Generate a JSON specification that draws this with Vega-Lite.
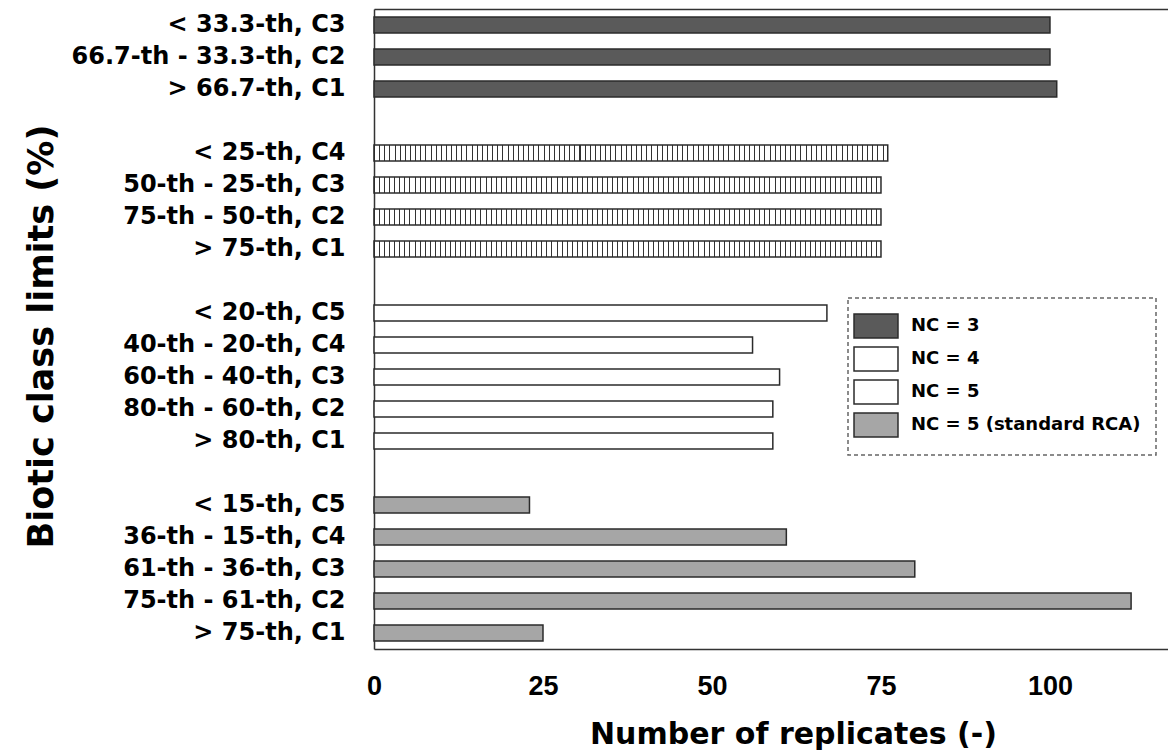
{
  "$schema": "https://vega.github.io/schema/vega-lite/v6.json",
  "width": 794,
  "height": 640,
  "autosize": {"type": "none"},
  "padding": {"left": 374, "top": 9, "right": 0, "bottom": 107},
  "background": "white",
  "config": {"view": {"stroke": null}, "legend": {"strokeDash": [4, 3], "strokeWidth": 1.5}},
  "resolve": {"axis": {"x": "independent", "y": "independent"}},
  "data": {"values": [
    {"cls": "< 33.3-th, C3", "n": 100, "NC": "NC = 3"},
    {"cls": "66.7-th - 33.3-th, C2", "n": 100, "NC": "NC = 3"},
    {"cls": "> 66.7-th, C1", "n": 101, "NC": "NC = 3"},
    {"cls": "< 25-th, C4", "n": 76, "NC": "NC = 4"},
    {"cls": "50-th - 25-th, C3", "n": 75, "NC": "NC = 4"},
    {"cls": "75-th - 50-th, C2", "n": 75, "NC": "NC = 4"},
    {"cls": "> 75-th, C1", "n": 75, "NC": "NC = 4"},
    {"cls": "< 20-th, C5", "n": 67, "NC": "NC = 5"},
    {"cls": "40-th - 20-th, C4", "n": 56, "NC": "NC = 5"},
    {"cls": "60-th - 40-th, C3", "n": 60, "NC": "NC = 5"},
    {"cls": "80-th - 60-th, C2", "n": 59, "NC": "NC = 5"},
    {"cls": "> 80-th, C1", "n": 59, "NC": "NC = 5"},
    {"cls": "< 15-th, C5", "n": 23, "NC": "NC = 5 (standard RCA)"},
    {"cls": "36-th - 15-th, C4", "n": 61, "NC": "NC = 5 (standard RCA)"},
    {"cls": "61-th - 36-th, C3", "n": 80, "NC": "NC = 5 (standard RCA)"},
    {"cls": "75-th - 61-th, C2", "n": 112, "NC": "NC = 5 (standard RCA)"},
    {"cls": "> 75-th, C1\u200b", "n": 25, "NC": "NC = 5 (standard RCA)"}
  ]},
  "layer": [
    {
      "mark": {"type": "bar", "stroke": "#2b2b2b", "strokeWidth": 1.5},
      "encoding": {
        "y": {
          "field": "cls", "type": "nominal", "sort": null,
          "scale": {
            "domain": ["< 33.3-th, C3", "66.7-th - 33.3-th, C2", "> 66.7-th, C1", "gap1", "< 25-th, C4", "50-th - 25-th, C3", "75-th - 50-th, C2", "> 75-th, C1", "gap2", "< 20-th, C5", "40-th - 20-th, C4", "60-th - 40-th, C3", "80-th - 60-th, C2", "> 80-th, C1", "gap3", "< 15-th, C5", "36-th - 15-th, C4", "61-th - 36-th, C3", "75-th - 61-th, C2", "> 75-th, C1\u200b"],
            "paddingInner": 0.5, "paddingOuter": 0.25
          },
          "axis": {
            "orient": "left",
            "title": "Biotic class limits (%)",
            "domain": true, "domainColor": "#333333", "domainWidth": 1.5,
            "ticks": false, "tickSize": 0,
            "labelPadding": 29, "labelLimit": 500, "labelOverlap": false,
            "labelFont": "DejaVu Sans", "labelFontSize": 24, "labelFontWeight": "bold", "labelColor": "#000000",
            "labelExpr": "indexof(datum.label, 'gap') === 0 ? '' : datum.label",
            "titleFont": "DejaVu Sans", "titleFontSize": 35, "titleFontWeight": "bold", "titleColor": "#000000",
            "titleX": -322, "titleY": 327, "titleAlign": "center", "titleBaseline": "alphabetic", "titleAngle": 270
          }
        },
        "x": {
          "field": "n", "type": "quantitative",
          "scale": {"domain": [0, 117.46], "nice": false},
          "axis": {
            "orient": "bottom",
            "title": "Number of replicates (-)",
            "values": [0, 25, 50, 75, 100],
            "domain": true, "domainColor": "#333333", "domainWidth": 1.5,
            "ticks": false, "tickSize": 0, "grid": false,
            "labelPadding": 45, "labelBaseline": "alphabetic", "labelFlush": false,
            "labelFont": "Liberation Sans", "labelFontSize": 27, "labelFontWeight": "bold", "labelColor": "#000000",
            "titleFont": "DejaVu Sans", "titleFontSize": 30, "titleFontWeight": "bold", "titleColor": "#000000",
            "titleX": 419, "titleY": 94, "titleAlign": "center", "titleBaseline": "alphabetic"
          }
        },
        "fill": {
          "field": "NC", "type": "nominal",
          "condition": {
            "test": "datum.NC === 'NC = 4'",
            "value": {"gradient": "linear", "x1": 0, "y1": 0, "x2": 1, "y2": 0, "stops": [
{"offset":0,"color":"#333"},{"offset":0.00197,"color":"#333"},{"offset":0.00197,"color":"#fff"},{"offset":0.01,"color":"#fff"},
{"offset":0.01,"color":"#333"},{"offset":0.01197,"color":"#333"},{"offset":0.01197,"color":"#fff"},{"offset":0.02,"color":"#fff"},
{"offset":0.02,"color":"#333"},{"offset":0.02197,"color":"#333"},{"offset":0.02197,"color":"#fff"},{"offset":0.03,"color":"#fff"},
{"offset":0.03,"color":"#333"},{"offset":0.03197,"color":"#333"},{"offset":0.03197,"color":"#fff"},{"offset":0.04,"color":"#fff"},
{"offset":0.04,"color":"#333"},{"offset":0.04197,"color":"#333"},{"offset":0.04197,"color":"#fff"},{"offset":0.05,"color":"#fff"},
{"offset":0.05,"color":"#333"},{"offset":0.05197,"color":"#333"},{"offset":0.05197,"color":"#fff"},{"offset":0.06,"color":"#fff"},
{"offset":0.06,"color":"#333"},{"offset":0.06197,"color":"#333"},{"offset":0.06197,"color":"#fff"},{"offset":0.07,"color":"#fff"},
{"offset":0.07,"color":"#333"},{"offset":0.07197,"color":"#333"},{"offset":0.07197,"color":"#fff"},{"offset":0.08,"color":"#fff"},
{"offset":0.08,"color":"#333"},{"offset":0.08197,"color":"#333"},{"offset":0.08197,"color":"#fff"},{"offset":0.09,"color":"#fff"},
{"offset":0.09,"color":"#333"},{"offset":0.09197,"color":"#333"},{"offset":0.09197,"color":"#fff"},{"offset":0.10,"color":"#fff"},
{"offset":0.10,"color":"#333"},{"offset":0.10197,"color":"#333"},{"offset":0.10197,"color":"#fff"},{"offset":0.11,"color":"#fff"},
{"offset":0.11,"color":"#333"},{"offset":0.11197,"color":"#333"},{"offset":0.11197,"color":"#fff"},{"offset":0.12,"color":"#fff"},
{"offset":0.12,"color":"#333"},{"offset":0.12197,"color":"#333"},{"offset":0.12197,"color":"#fff"},{"offset":0.13,"color":"#fff"},
{"offset":0.13,"color":"#333"},{"offset":0.13197,"color":"#333"},{"offset":0.13197,"color":"#fff"},{"offset":0.14,"color":"#fff"},
{"offset":0.14,"color":"#333"},{"offset":0.14197,"color":"#333"},{"offset":0.14197,"color":"#fff"},{"offset":0.15,"color":"#fff"},
{"offset":0.15,"color":"#333"},{"offset":0.15197,"color":"#333"},{"offset":0.15197,"color":"#fff"},{"offset":0.16,"color":"#fff"},
{"offset":0.16,"color":"#333"},{"offset":0.16197,"color":"#333"},{"offset":0.16197,"color":"#fff"},{"offset":0.17,"color":"#fff"},
{"offset":0.17,"color":"#333"},{"offset":0.17197,"color":"#333"},{"offset":0.17197,"color":"#fff"},{"offset":0.18,"color":"#fff"},
{"offset":0.18,"color":"#333"},{"offset":0.18197,"color":"#333"},{"offset":0.18197,"color":"#fff"},{"offset":0.19,"color":"#fff"},
{"offset":0.19,"color":"#333"},{"offset":0.19197,"color":"#333"},{"offset":0.19197,"color":"#fff"},{"offset":0.20,"color":"#fff"},
{"offset":0.20,"color":"#333"},{"offset":0.20197,"color":"#333"},{"offset":0.20197,"color":"#fff"},{"offset":0.21,"color":"#fff"},
{"offset":0.21,"color":"#333"},{"offset":0.21197,"color":"#333"},{"offset":0.21197,"color":"#fff"},{"offset":0.22,"color":"#fff"},
{"offset":0.22,"color":"#333"},{"offset":0.22197,"color":"#333"},{"offset":0.22197,"color":"#fff"},{"offset":0.23,"color":"#fff"},
{"offset":0.23,"color":"#333"},{"offset":0.23197,"color":"#333"},{"offset":0.23197,"color":"#fff"},{"offset":0.24,"color":"#fff"},
{"offset":0.24,"color":"#333"},{"offset":0.24197,"color":"#333"},{"offset":0.24197,"color":"#fff"},{"offset":0.25,"color":"#fff"},
{"offset":0.25,"color":"#333"},{"offset":0.25197,"color":"#333"},{"offset":0.25197,"color":"#fff"},{"offset":0.26,"color":"#fff"},
{"offset":0.26,"color":"#333"},{"offset":0.26197,"color":"#333"},{"offset":0.26197,"color":"#fff"},{"offset":0.27,"color":"#fff"},
{"offset":0.27,"color":"#333"},{"offset":0.27197,"color":"#333"},{"offset":0.27197,"color":"#fff"},{"offset":0.28,"color":"#fff"},
{"offset":0.28,"color":"#333"},{"offset":0.28197,"color":"#333"},{"offset":0.28197,"color":"#fff"},{"offset":0.29,"color":"#fff"},
{"offset":0.29,"color":"#333"},{"offset":0.29197,"color":"#333"},{"offset":0.29197,"color":"#fff"},{"offset":0.30,"color":"#fff"},
{"offset":0.30,"color":"#333"},{"offset":0.30197,"color":"#333"},{"offset":0.30197,"color":"#fff"},{"offset":0.31,"color":"#fff"},
{"offset":0.31,"color":"#333"},{"offset":0.31197,"color":"#333"},{"offset":0.31197,"color":"#fff"},{"offset":0.32,"color":"#fff"},
{"offset":0.32,"color":"#333"},{"offset":0.32197,"color":"#333"},{"offset":0.32197,"color":"#fff"},{"offset":0.33,"color":"#fff"},
{"offset":0.33,"color":"#333"},{"offset":0.33197,"color":"#333"},{"offset":0.33197,"color":"#fff"},{"offset":0.34,"color":"#fff"},
{"offset":0.34,"color":"#333"},{"offset":0.34197,"color":"#333"},{"offset":0.34197,"color":"#fff"},{"offset":0.35,"color":"#fff"},
{"offset":0.35,"color":"#333"},{"offset":0.35197,"color":"#333"},{"offset":0.35197,"color":"#fff"},{"offset":0.36,"color":"#fff"},
{"offset":0.36,"color":"#333"},{"offset":0.36197,"color":"#333"},{"offset":0.36197,"color":"#fff"},{"offset":0.37,"color":"#fff"},
{"offset":0.37,"color":"#333"},{"offset":0.37197,"color":"#333"},{"offset":0.37197,"color":"#fff"},{"offset":0.38,"color":"#fff"},
{"offset":0.38,"color":"#333"},{"offset":0.38197,"color":"#333"},{"offset":0.38197,"color":"#fff"},{"offset":0.39,"color":"#fff"},
{"offset":0.39,"color":"#333"},{"offset":0.39197,"color":"#333"},{"offset":0.39197,"color":"#fff"},{"offset":0.40,"color":"#fff"},
{"offset":0.40,"color":"#333"},{"offset":0.40197,"color":"#333"},{"offset":0.40197,"color":"#fff"},{"offset":0.41,"color":"#fff"},
{"offset":0.41,"color":"#333"},{"offset":0.41197,"color":"#333"},{"offset":0.41197,"color":"#fff"},{"offset":0.42,"color":"#fff"},
{"offset":0.42,"color":"#333"},{"offset":0.42197,"color":"#333"},{"offset":0.42197,"color":"#fff"},{"offset":0.43,"color":"#fff"},
{"offset":0.43,"color":"#333"},{"offset":0.43197,"color":"#333"},{"offset":0.43197,"color":"#fff"},{"offset":0.44,"color":"#fff"},
{"offset":0.44,"color":"#333"},{"offset":0.44197,"color":"#333"},{"offset":0.44197,"color":"#fff"},{"offset":0.45,"color":"#fff"},
{"offset":0.45,"color":"#333"},{"offset":0.45197,"color":"#333"},{"offset":0.45197,"color":"#fff"},{"offset":0.46,"color":"#fff"},
{"offset":0.46,"color":"#333"},{"offset":0.46197,"color":"#333"},{"offset":0.46197,"color":"#fff"},{"offset":0.47,"color":"#fff"},
{"offset":0.47,"color":"#333"},{"offset":0.47197,"color":"#333"},{"offset":0.47197,"color":"#fff"},{"offset":0.48,"color":"#fff"},
{"offset":0.48,"color":"#333"},{"offset":0.48197,"color":"#333"},{"offset":0.48197,"color":"#fff"},{"offset":0.49,"color":"#fff"},
{"offset":0.49,"color":"#333"},{"offset":0.49197,"color":"#333"},{"offset":0.49197,"color":"#fff"},{"offset":0.50,"color":"#fff"},
{"offset":0.50,"color":"#333"},{"offset":0.50197,"color":"#333"},{"offset":0.50197,"color":"#fff"},{"offset":0.51,"color":"#fff"},
{"offset":0.51,"color":"#333"},{"offset":0.51197,"color":"#333"},{"offset":0.51197,"color":"#fff"},{"offset":0.52,"color":"#fff"},
{"offset":0.52,"color":"#333"},{"offset":0.52197,"color":"#333"},{"offset":0.52197,"color":"#fff"},{"offset":0.53,"color":"#fff"},
{"offset":0.53,"color":"#333"},{"offset":0.53197,"color":"#333"},{"offset":0.53197,"color":"#fff"},{"offset":0.54,"color":"#fff"},
{"offset":0.54,"color":"#333"},{"offset":0.54197,"color":"#333"},{"offset":0.54197,"color":"#fff"},{"offset":0.55,"color":"#fff"},
{"offset":0.55,"color":"#333"},{"offset":0.55197,"color":"#333"},{"offset":0.55197,"color":"#fff"},{"offset":0.56,"color":"#fff"},
{"offset":0.56,"color":"#333"},{"offset":0.56197,"color":"#333"},{"offset":0.56197,"color":"#fff"},{"offset":0.57,"color":"#fff"},
{"offset":0.57,"color":"#333"},{"offset":0.57197,"color":"#333"},{"offset":0.57197,"color":"#fff"},{"offset":0.58,"color":"#fff"},
{"offset":0.58,"color":"#333"},{"offset":0.58197,"color":"#333"},{"offset":0.58197,"color":"#fff"},{"offset":0.59,"color":"#fff"},
{"offset":0.59,"color":"#333"},{"offset":0.59197,"color":"#333"},{"offset":0.59197,"color":"#fff"},{"offset":0.60,"color":"#fff"},
{"offset":0.60,"color":"#333"},{"offset":0.60197,"color":"#333"},{"offset":0.60197,"color":"#fff"},{"offset":0.61,"color":"#fff"},
{"offset":0.61,"color":"#333"},{"offset":0.61197,"color":"#333"},{"offset":0.61197,"color":"#fff"},{"offset":0.62,"color":"#fff"},
{"offset":0.62,"color":"#333"},{"offset":0.62197,"color":"#333"},{"offset":0.62197,"color":"#fff"},{"offset":0.63,"color":"#fff"},
{"offset":0.63,"color":"#333"},{"offset":0.63197,"color":"#333"},{"offset":0.63197,"color":"#fff"},{"offset":0.64,"color":"#fff"},
{"offset":0.64,"color":"#333"},{"offset":0.64197,"color":"#333"},{"offset":0.64197,"color":"#fff"},{"offset":0.65,"color":"#fff"},
{"offset":0.65,"color":"#333"},{"offset":0.65197,"color":"#333"},{"offset":0.65197,"color":"#fff"},{"offset":0.66,"color":"#fff"},
{"offset":0.66,"color":"#333"},{"offset":0.66197,"color":"#333"},{"offset":0.66197,"color":"#fff"},{"offset":0.67,"color":"#fff"},
{"offset":0.67,"color":"#333"},{"offset":0.67197,"color":"#333"},{"offset":0.67197,"color":"#fff"},{"offset":0.68,"color":"#fff"},
{"offset":0.68,"color":"#333"},{"offset":0.68197,"color":"#333"},{"offset":0.68197,"color":"#fff"},{"offset":0.69,"color":"#fff"},
{"offset":0.69,"color":"#333"},{"offset":0.69197,"color":"#333"},{"offset":0.69197,"color":"#fff"},{"offset":0.70,"color":"#fff"},
{"offset":0.70,"color":"#333"},{"offset":0.70197,"color":"#333"},{"offset":0.70197,"color":"#fff"},{"offset":0.71,"color":"#fff"},
{"offset":0.71,"color":"#333"},{"offset":0.71197,"color":"#333"},{"offset":0.71197,"color":"#fff"},{"offset":0.72,"color":"#fff"},
{"offset":0.72,"color":"#333"},{"offset":0.72197,"color":"#333"},{"offset":0.72197,"color":"#fff"},{"offset":0.73,"color":"#fff"},
{"offset":0.73,"color":"#333"},{"offset":0.73197,"color":"#333"},{"offset":0.73197,"color":"#fff"},{"offset":0.74,"color":"#fff"},
{"offset":0.74,"color":"#333"},{"offset":0.74197,"color":"#333"},{"offset":0.74197,"color":"#fff"},{"offset":0.75,"color":"#fff"},
{"offset":0.75,"color":"#333"},{"offset":0.75197,"color":"#333"},{"offset":0.75197,"color":"#fff"},{"offset":0.76,"color":"#fff"},
{"offset":0.76,"color":"#333"},{"offset":0.76197,"color":"#333"},{"offset":0.76197,"color":"#fff"},{"offset":0.77,"color":"#fff"},
{"offset":0.77,"color":"#333"},{"offset":0.77197,"color":"#333"},{"offset":0.77197,"color":"#fff"},{"offset":0.78,"color":"#fff"},
{"offset":0.78,"color":"#333"},{"offset":0.78197,"color":"#333"},{"offset":0.78197,"color":"#fff"},{"offset":0.79,"color":"#fff"},
{"offset":0.79,"color":"#333"},{"offset":0.79197,"color":"#333"},{"offset":0.79197,"color":"#fff"},{"offset":0.80,"color":"#fff"},
{"offset":0.80,"color":"#333"},{"offset":0.80197,"color":"#333"},{"offset":0.80197,"color":"#fff"},{"offset":0.81,"color":"#fff"},
{"offset":0.81,"color":"#333"},{"offset":0.81197,"color":"#333"},{"offset":0.81197,"color":"#fff"},{"offset":0.82,"color":"#fff"},
{"offset":0.82,"color":"#333"},{"offset":0.82197,"color":"#333"},{"offset":0.82197,"color":"#fff"},{"offset":0.83,"color":"#fff"},
{"offset":0.83,"color":"#333"},{"offset":0.83197,"color":"#333"},{"offset":0.83197,"color":"#fff"},{"offset":0.84,"color":"#fff"},
{"offset":0.84,"color":"#333"},{"offset":0.84197,"color":"#333"},{"offset":0.84197,"color":"#fff"},{"offset":0.85,"color":"#fff"},
{"offset":0.85,"color":"#333"},{"offset":0.85197,"color":"#333"},{"offset":0.85197,"color":"#fff"},{"offset":0.86,"color":"#fff"},
{"offset":0.86,"color":"#333"},{"offset":0.86197,"color":"#333"},{"offset":0.86197,"color":"#fff"},{"offset":0.87,"color":"#fff"},
{"offset":0.87,"color":"#333"},{"offset":0.87197,"color":"#333"},{"offset":0.87197,"color":"#fff"},{"offset":0.88,"color":"#fff"},
{"offset":0.88,"color":"#333"},{"offset":0.88197,"color":"#333"},{"offset":0.88197,"color":"#fff"},{"offset":0.89,"color":"#fff"},
{"offset":0.89,"color":"#333"},{"offset":0.89197,"color":"#333"},{"offset":0.89197,"color":"#fff"},{"offset":0.90,"color":"#fff"},
{"offset":0.90,"color":"#333"},{"offset":0.90197,"color":"#333"},{"offset":0.90197,"color":"#fff"},{"offset":0.91,"color":"#fff"},
{"offset":0.91,"color":"#333"},{"offset":0.91197,"color":"#333"},{"offset":0.91197,"color":"#fff"},{"offset":0.92,"color":"#fff"},
{"offset":0.92,"color":"#333"},{"offset":0.92197,"color":"#333"},{"offset":0.92197,"color":"#fff"},{"offset":0.93,"color":"#fff"},
{"offset":0.93,"color":"#333"},{"offset":0.93197,"color":"#333"},{"offset":0.93197,"color":"#fff"},{"offset":0.94,"color":"#fff"},
{"offset":0.94,"color":"#333"},{"offset":0.94197,"color":"#333"},{"offset":0.94197,"color":"#fff"},{"offset":0.95,"color":"#fff"},
{"offset":0.95,"color":"#333"},{"offset":0.95197,"color":"#333"},{"offset":0.95197,"color":"#fff"},{"offset":0.96,"color":"#fff"},
{"offset":0.96,"color":"#333"},{"offset":0.96197,"color":"#333"},{"offset":0.96197,"color":"#fff"},{"offset":0.97,"color":"#fff"},
{"offset":0.97,"color":"#333"},{"offset":0.97197,"color":"#333"},{"offset":0.97197,"color":"#fff"},{"offset":0.98,"color":"#fff"},
{"offset":0.98,"color":"#333"},{"offset":0.98197,"color":"#333"},{"offset":0.98197,"color":"#fff"},{"offset":0.99,"color":"#fff"},
{"offset":0.99,"color":"#333"},{"offset":0.99197,"color":"#333"},{"offset":0.99197,"color":"#fff"},{"offset":1,"color":"#fff"}
            ]}
          },
          "scale": {
            "domain": ["NC = 3", "NC = 4", "NC = 5", "NC = 5 (standard RCA)"],
            "range": ["#5a5a5a", "#ffffff", "#ffffff", "#a6a6a6"]
          },
          "legend": {
            "title": null,
            "orient": "none", "legendX": 474, "legendY": 289,
            "direction": "vertical",
            "padding": 15,
            "strokeColor": "#666666",
            "fillColor": "#ffffff",
            "symbolType": "M-1.833,-1H1.833V1H-1.833Z",
            "symbolSize": 576,
            "symbolStrokeWidth": 1.5,
            "labelFont": "DejaVu Sans", "labelFontSize": 18, "labelFontWeight": "bold", "labelColor": "#000000",
            "labelOffset": 22, "labelLimit": 500,
            "rowPadding": 3,
            "encode": {
              "symbols": {
                "stroke": {"value": "#222222"},
                "strokeWidth": {"value": 1.5}
              }
            }
          }
        }
      }
    },
    {
      "mark": {"type": "bar", "opacity": 0},
      "encoding": {
        "y": {
          "field": "cls", "type": "nominal", "sort": null,
          "scale": {
            "domain": ["< 33.3-th, C3", "66.7-th - 33.3-th, C2", "> 66.7-th, C1", "gap1", "< 25-th, C4", "50-th - 25-th, C3", "75-th - 50-th, C2", "> 75-th, C1", "gap2", "< 20-th, C5", "40-th - 20-th, C4", "60-th - 40-th, C3", "80-th - 60-th, C2", "> 80-th, C1", "gap3", "< 15-th, C5", "36-th - 15-th, C4", "61-th - 36-th, C3", "75-th - 61-th, C2", "> 75-th, C1\u200b"],
            "paddingInner": 0.5, "paddingOuter": 0.25
          },
          "axis": null
        },
        "x": {
          "field": "n", "type": "quantitative",
          "scale": {"domain": [0, 117.46], "nice": false},
          "axis": {"orient": "top", "title": null, "labels": false, "ticks": false, "grid": false, "domain": true, "domainColor": "#333333", "domainWidth": 1.5}
        }
      }
    }
  ]
}
